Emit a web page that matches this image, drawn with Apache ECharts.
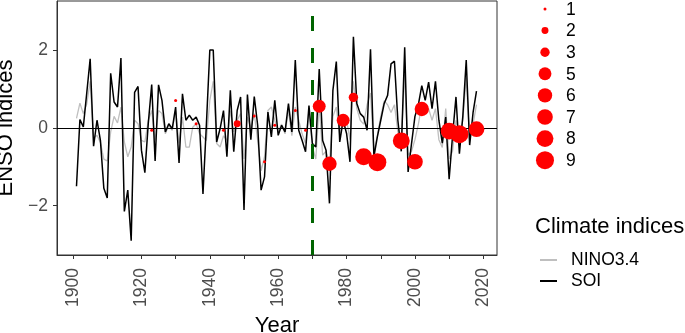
<!DOCTYPE html>
<html>
<head>
<meta charset="utf-8">
<script src="https://cdn.jsdelivr.net/npm/echarts@6/dist/echarts.min.js"></script>
<style>
  html, body { margin: 0; padding: 0; background: #fff; }
  #chart { width: 685px; height: 333px; }
</style>
</head>
<body>
<div id="chart"></div>
<script>
var startYear = 1901;
var soi = [
  -1.5, 0.22, 0.03, 0.9, 1.78, -0.47, 0.2, -0.32, -1.55, -1.8,
  1.41, 0.67, 0.54, 1.8, -2.15, -1.6, -2.9, 0.92, 1.07, -0.57,
  -1.15, 0.12, 1.12, -0.85, 1.11, 0.71, -0.1, 0.11, -0.02, 0.54,
  -0.9, 0.88, 0.2, 0.33, 0.2, 0.28, 0.07, -1.7, 0.1, 2.01,
  2.01, -0.36, -0.02, 0.45, -0.74, 0.97, -0.61, 0.45, 0.8, -2.11,
  0.86, -0.3, 0.81, 0.07, -1.6, -1.26, 0.41, -0.23, 0.71, -0.19,
  0.07, -0.1, 0.63, -0.1, 1.75, -0.06, -0.32, -0.61, 0.58, -0.4,
  -0.49, 1.52, -0.32, -0.57, -1.94, 0.97, 1.71, -0.36, 0.2, -0.14,
  -0.87, 2.35, 0.63, 0.37, 0.28, -0.06, 2.03, -0.74, -0.23, 0.2,
  0.63, 0.84, 1.65, 1.72, 0.2, -0.6, 2.08, -1.13, -0.4, 0.3,
  0.6, 1.09, 0.71, 1.18, 0.5, 1.2, 0.2, -0.39, 0.28, -1.32,
  -0.2, 0.8, -0.66, 0.3, 1.75, -0.44, 0.4, 0.95
];
var nino = [
  0.25, 0.64, 0.37, 0.62, 1.2, -0.25, -0.19, -0.37, -0.8, -0.85,
  -0.1, 0.3, 0.13, 0.54, -0.36, -0.74, -0.49, 0.2, 0.11, -0.32,
  -0.36, 0.2, 0.45, -0.32, 0.45, 0.37, -0.15, 0.07, -0.06, 0.45,
  -0.4, 0.28, -0.49, -0.49, 0.02, 0.11, -0.15, -0.23, -0.32, 0.71,
  1.2, -0.4, -0.49, -0.2, -0.32, 0.45, -0.1, 0.2, 0.37, -0.8,
  0.28, 0.0, 0.37, -0.32, -1.1, -0.74, 0.45, 0.54, 0.2, -0.1,
  0.1, -0.15, 0.45, -0.2, 0.54, 0.2, -0.15, -0.4, 0.45, -0.49,
  -0.8, 0.6, -0.7, -0.6, -0.9, 0.3, 0.54, -0.2, 0.3, 0.2,
  -0.3, 1.2, 0.5, 0.2, 0.1, 0.6, 0.9, -0.6, -0.2, 0.3,
  0.7, 0.6, 0.4, 0.6, -0.1, -0.3, 1.4, -0.7, -0.6, -0.3,
  0.1, 0.6, 0.4, 0.5, 0.2, 0.5, -0.3, -0.5, 0.5, -0.8,
  -0.6, 0.2, -0.2, 0.2, 1.3, -0.3, 0.1, 0.6
];
var dotYears = [1923, 1930, 1936, 1944, 1948, 1953, 1956, 1959, 1965, 1968, 1972, 1975, 1979, 1982, 1985, 1989, 1996, 2000, 2002, 2010, 2013, 2018];
var dotValues = [-0.06, 0.71, 0.11, -0.06, 0.11, 0.31, -0.87, 0.07, 0.45, -0.06, 0.56, -0.92, 0.2, 0.79, -0.74, -0.88, -0.33, -0.87, 0.49, -0.08, -0.16, -0.03];
var dotSizes = [1, 1, 1, 1, 2, 1, 1, 1, 1, 1, 5, 6, 5, 3, 8, 9, 8, 7, 6, 8, 9, 7];
var sizeLevels = [1, 2, 3, 5, 6, 7, 8, 9];
var xTicks = [1900, 1910, 1920, 1930, 1940, 1950, 1960, 1970, 1980, 1990, 2000, 2010, 2020];
var xLabels = [1900, 1920, 1940, 1960, 1980, 2000, 2020];
var yTicks = [-2, 0, 2];
var breakYear = 1970;

// ggplot-like area scaling for the dot sizes
function diam(s) { return Math.sqrt(9 + (s - 1) * 39.4); }

var soiData = soi.map(function (v, i) { return [startYear + i, v]; });
var ninoData = nino.map(function (v, i) { return [startYear + i, v]; });
var dotData = dotYears.map(function (y, i) { return [y, dotValues[i], dotSizes[i]]; });

var font = '"Liberation Sans", Arial, sans-serif';

var graphics = [];
sizeLevels.forEach(function (s, i) {
  var cy = 9 + i * 21.6;
  graphics.push({ type: 'circle', shape: { cx: 545, cy: cy, r: diam(s) / 2 }, style: { fill: '#ff0000' } });
  graphics.push({ type: 'text', x: 566, y: cy + 1, style: { text: String(s), fill: '#000', font: '17.5px ' + font, textVerticalAlign: 'middle' } });
});
graphics.push({ type: 'text', x: 535, y: 227, style: { text: 'Climate indices', fill: '#000', font: '22px ' + font, textVerticalAlign: 'middle' } });

var myChart = echarts.init(document.getElementById('chart'));
var option = {
  animation: false,
  textStyle: { fontFamily: font },
  grid: { left: 57, top: 1, width: 440, height: 254, outerBoundsMode: 'none', containLabel: false,
    show: true, borderColor: '#333', borderWidth: 1, backgroundColor: '#fff' },
  legend: {
    orient: 'vertical', left: 535, top: 246, itemWidth: 17, itemHeight: 2, itemGap: 3,
    textStyle: { fontSize: 17.5, color: '#000', padding: [0, 0, 0, 9] },
    data: [{ name: 'NINO3.4', icon: 'rect', itemStyle: { color: '#bfbfbf' } }, { name: 'SOI', icon: 'rect', itemStyle: { color: '#000' } }]
  },
  xAxis: {
    type: 'value', min: 1895.3, max: 2024,
    name: 'Year', nameLocation: 'middle', nameGap: 54,
    nameTextStyle: { fontSize: 22, color: '#000' },
    splitLine: { show: false },
    axisLine: { show: true, onZero: false, lineStyle: { color: '#333', width: 1 } },
    axisTick: { show: true, length: 4, lineStyle: { color: '#333', width: 1 }, customValues: xTicks },
    axisLabel: { rotate: 90, fontSize: 17.5, color: '#4d4d4d', margin: 13, customValues: xLabels,
      formatter: function (v) { return String(v); } }
  },
  yAxis: {
    type: 'value', min: -3.27, max: 3.27,
    name: 'ENSO indices', nameLocation: 'middle', nameGap: 36,
    nameTextStyle: { fontSize: 22, color: '#000' },
    splitLine: { show: false },
    axisLine: { show: true, onZero: false, lineStyle: { color: '#333', width: 1 } },
    axisTick: { show: true, length: 4, lineStyle: { color: '#333', width: 1 }, customValues: yTicks },
    axisLabel: { fontSize: 17.5, color: '#4d4d4d', margin: 9, customValues: yTicks,
      formatter: function (v) { return String(v).replace('-', '\u2212'); } }
  },
  series: [
    {
      name: 'NINO3.4', type: 'line', data: ninoData, symbol: 'none',
      lineStyle: { color: '#bfbfbf', width: 1.3 }, itemStyle: { color: '#bfbfbf' }, z: 2
    },
    {
      name: 'SOI', type: 'line', data: soiData, symbol: 'none',
      lineStyle: { color: '#000', width: 1.5 }, itemStyle: { color: '#000' }, z: 3,
      markLine: { silent: true, symbol: 'none', label: { show: false }, lineStyle: { color: '#000', width: 1.2, type: 'solid' }, data: [{ yAxis: 0 }] }
    },
    {
      name: 'dots', type: 'scatter', data: dotData, z: 5,
      symbolSize: function (d) { return diam(d[2]); },
      itemStyle: { color: '#ff0000', opacity: 1 }
    },
    {
      name: 'break', type: 'line', data: [], z: 4,
      markLine: { silent: true, symbol: 'none', label: { show: false }, lineStyle: { color: '#006400', width: 3, type: [15, 17] }, data: [{ xAxis: breakYear }] }
    }
  ],
  graphic: graphics
};
myChart.setOption(option);
</script>
</body>
</html>
